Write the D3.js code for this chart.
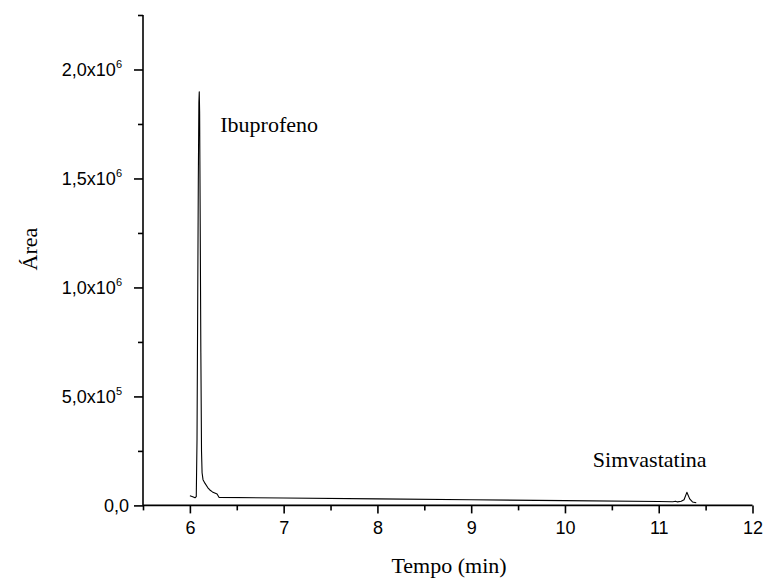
<!DOCTYPE html>
<html>
<head>
<meta charset="utf-8">
<script src="https://cdn.jsdelivr.net/npm/d3@7"></script>
<style>
  html, body { margin: 0; padding: 0; background: #fff; }
  svg { display: block; }
</style>
</head>
<body>
<svg id="chart" width="766" height="579"></svg>
<script>
// Chromatogram trace (time in min, area)
const tempo = [6.00, 6.03, 6.055, 6.068, 6.076, 6.083, 6.09, 6.096, 6.100, 6.104, 6.110, 6.117, 6.124, 6.130, 6.140, 6.160, 6.190, 6.210, 6.240, 6.265, 6.290, 6.310,
               7.0, 8.0, 9.0, 10.0, 11.0, 11.15, 11.18, 11.20, 11.24, 11.27, 11.30, 11.33, 11.36, 11.40];
const area  = [44000, 40000, 35000, 40000, 300000, 900000, 1500000, 1850000, 1898000, 1800000, 1300000, 700000, 250000, 150000, 118000, 102000, 82000, 72000, 62000, 57000, 52000, 37000,
               34000, 30000, 26000, 22000, 18000, 17000, 19000, 16000, 19000, 26000, 60000, 30000, 16000, 12000];

const xMajorTicks = [6, 7, 8, 9, 10, 11, 12];
const xMinorTicks = [5.5, 6.5, 7.5, 8.5, 9.5, 10.5, 11.5];
const yMajorTicks = [0, 500000, 1000000, 1500000, 2000000];
const yMinorTicks = [250000, 750000, 1250000, 1750000, 2250000];
const yTickMant = {0: "0,0", 500000: "5,0x10", 1000000: "1,0x10", 1500000: "1,5x10", 2000000: "2,0x10"};
const yTickExp  = {0: "", 500000: "5", 1000000: "6", 1500000: "6", 2000000: "6"};

const peakLabels = [
  {text: "Ibuprofeno", t: 6.1, a: 1898000},
  {text: "Simvastatina", t: 11.3, a: 60000}
];

const svg = d3.select("#chart");
const x = d3.scaleLinear().domain([5.5, 12]).range([143, 752.5]);
const y = d3.scaleLinear().domain([0, 2250000]).range([505.4, 15]);

const axisColor = "#000";
const g = svg.append("g");

// X axis
const xAxisMajor = d3.axisBottom(x).tickValues(xMajorTicks).tickSize(8).tickFormat(d3.format("d")).tickPadding(8);
const xAxisMinor = d3.axisBottom(x).tickValues(xMinorTicks).tickSize(5).tickFormat("");
const gx = g.append("g").attr("transform", `translate(0,${y(0)})`);
gx.call(xAxisMajor);
g.append("g").attr("transform", `translate(0,${y(0)})`).call(xAxisMinor).select(".domain").remove();
gx.select(".domain").attr("d", `M${x(5.5)},0H${x(12)}`);
gx.selectAll("text").attr("font-family", "'Liberation Sans', Arial, sans-serif").attr("font-size", 18).attr("fill", "#000");

// Y axis
const yAxisMajor = d3.axisLeft(y).tickValues(yMajorTicks).tickSize(9).tickFormat("").tickPadding(8);
const yAxisMinor = d3.axisLeft(y).tickValues(yMinorTicks).tickSize(5).tickFormat("");
const gy = g.append("g").attr("transform", `translate(${x(5.5)},0)`);
gy.call(yAxisMajor);
g.append("g").attr("transform", `translate(${x(5.5)},0)`).call(yAxisMinor).select(".domain").remove();
gy.select(".domain").attr("d", `M0,${y(2250000)}V${y(0)}`);

// y tick labels with superscripts
gy.selectAll(".tick").each(function(d) {
  const t = d3.select(this).append("text")
    .attr("x", -21)
    .attr("dy", "0.36em")
    .attr("text-anchor", "end")
    .attr("font-family", "'Liberation Sans', Arial, sans-serif")
    .attr("font-size", 18)
    .attr("fill", "#000");
  if (yTickExp[d]) {
    t.append("tspan").text(yTickMant[d]);
    t.append("tspan").text(yTickExp[d]).attr("font-size", 11).attr("dy", "-0.75em");
  } else {
    t.text(yTickMant[d]).attr("x", -14);
  }
});

g.selectAll(".domain, .tick line").attr("stroke", axisColor).attr("stroke-width", 1.6);

// Trace
const pts = tempo.map((t, i) => [t, area[i]]);
const line = d3.line().x(d => x(d[0])).y(d => y(d[1]));
svg.append("path")
  .datum(pts)
  .attr("d", line)
  .attr("fill", "none")
  .attr("stroke", "#000")
  .attr("stroke-width", 1.1)
  .attr("stroke-linejoin", "round");

// Peak labels
const serif = "'Liberation Serif', 'Times New Roman', serif";
svg.append("text").text(peakLabels[0].text)
  .attr("x", x(peakLabels[0].t) + 21).attr("y", 132)
  .attr("font-family", serif).attr("font-size", 22).attr("fill", "#000");
svg.append("text").text(peakLabels[1].text)
  .attr("x", x(peakLabels[1].t) - 94).attr("y", 467)
  .attr("font-family", serif).attr("font-size", 22).attr("fill", "#000");

// Axis titles
svg.append("text").text("Tempo (min)")
  .attr("x", 449).attr("y", 573).attr("text-anchor", "middle")
  .attr("font-family", serif).attr("font-size", 22).attr("fill", "#000");
svg.append("text").text("Área")
  .attr("transform", "translate(37,249) rotate(-90)").attr("text-anchor", "middle")
  .attr("font-family", serif).attr("font-size", 22).attr("fill", "#000");
</script>
</body>
</html>
